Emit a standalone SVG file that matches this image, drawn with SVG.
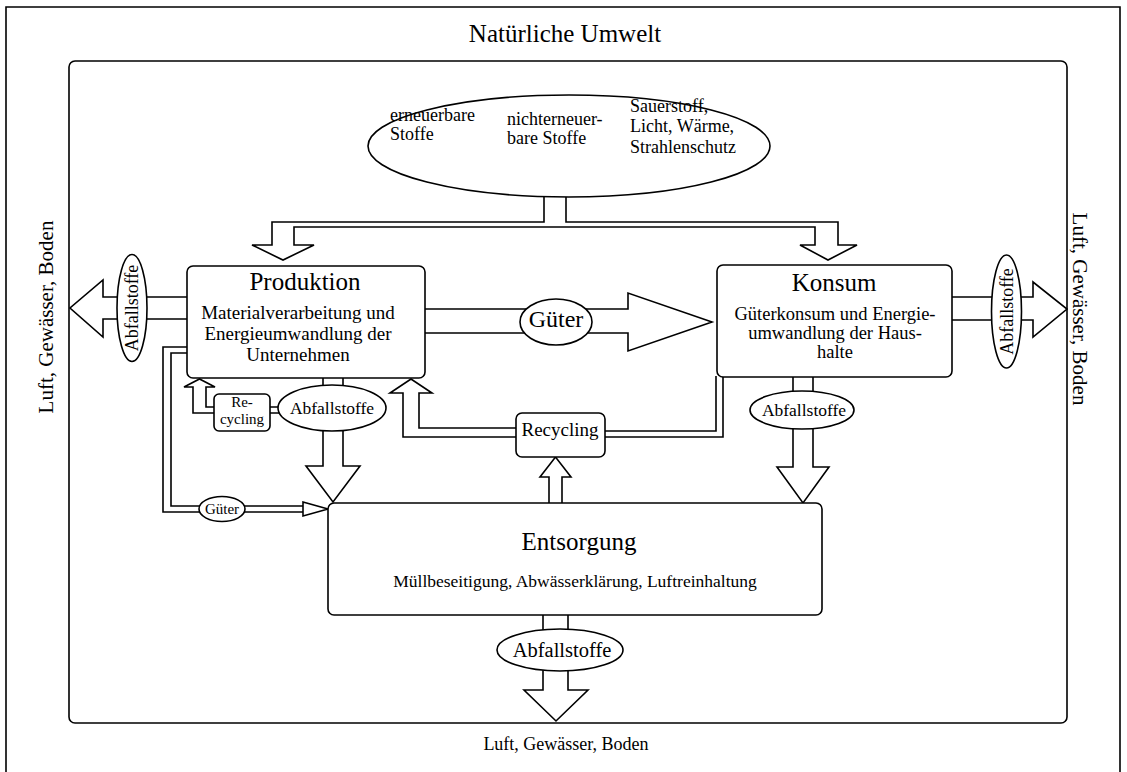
<svg xmlns="http://www.w3.org/2000/svg" width="1127" height="772" viewBox="0 0 1127 772">
<style>
.f{fill:#fff;stroke:#000;stroke-width:1.6;stroke-linejoin:miter}
.l{fill:none;stroke:#000;stroke-width:1.6}
text{font-family:"Liberation Serif","Times New Roman",serif;fill:#000}
.c{text-anchor:middle}
</style>
<rect width="1127" height="772" fill="#fff"/>
<g id="frame">
<path class="l" d="M6,772 V7 H1120 V772"/>
<rect class="l" x="69" y="61" width="998" height="662" rx="6"/>
<text class="c" x="565" y="42" font-size="25">Natürliche Umwelt</text>
<text class="c" x="566" y="750" font-size="18">Luft, Gewässer, Boden</text>
<text class="c" font-size="21" transform="translate(53,317) rotate(-90)">Luft, Gewässer, Boden</text>
<text class="c" font-size="21" transform="translate(1073,309) rotate(90)">Luft, Gewässer, Boden</text>
</g>
<g id="connectors">
<path class="f" d="M544,190 V222 H272 V245 H252 L283,260 L314,245 H294 V227 H815 V245 H800 L828,260 L857,245 H838 V222 H566 V190"/>
<path class="f" d="M187,297 H103 V280 L70,308 L103,337 V319 H187"/>
<path class="f" d="M952,297 H1033 V282 L1067,309 L1033,337 V320 H952"/>
<path class="f" d="M425,309 H628 V293 L712,322 L628,351 V333 H425"/>
<path class="f" d="M323,376 V392 M343,376 V392"/>
<path class="f" d="M323,426 V466 H306 L333,502 L360,466 H343 V426"/>
<path class="f" d="M793,375 V396 M813,375 V396"/>
<path class="f" d="M793,424 V467 H777 L803,503 L829,467 H813 V424"/>
<path class="f" d="M543,613 V634 M568,613 V634"/>
<path class="f" d="M543,666 V690 H524 L556,721 L588,690 H568 V666"/>
<path class="f" d="M214,413 H193 V387 H184 L199.5,379 L215,387 H206 V407 H214"/>
<path class="l" d="M268,407 H282 M268,413 H282"/>
<path class="f" d="M516,437 H403 V393 H390 L411,379 L432,393 H419 V428 H516"/>
<path class="l" d="M605,431 H716 V376 M605,437 H723 V376"/>
<path class="f" d="M549,504 V477 H540 L555.5,457 L571,477 H562 V504"/>
<path class="l" d="M187,347 H163 V512 H303 M187,353 H171 V506 H303"/>
<path class="f" d="M303,502 L328,509 L303,516 Z"/>
</g>
<g id="ressourcen">
<ellipse class="f" cx="569" cy="146" rx="201" ry="51"/>
<text font-size="18"><tspan x="390" y="121">erneuerbare</tspan><tspan x="390" y="140">Stoffe</tspan></text>
<text font-size="18"><tspan x="507" y="125">nichterneuer-</tspan><tspan x="507" y="144">bare Stoffe</tspan></text>
<text font-size="18"><tspan x="630" y="112">Sauerstoff,</tspan><tspan x="630" y="132">Licht, Wärme,</tspan><tspan x="630" y="153">Strahlenschutz</tspan></text>
</g>
<g id="produktion">
<rect class="f" x="187" y="266" width="238" height="112" rx="6"/>
<text class="c" x="305" y="290" font-size="25">Produktion</text>
<text class="c" font-size="19"><tspan x="298" y="319">Materialverarbeitung und</tspan><tspan x="298" y="340">Energieumwandlung der</tspan><tspan x="298" y="361">Unternehmen</tspan></text>
</g>
<g id="konsum">
<rect class="f" x="717" y="265" width="235" height="112" rx="6"/>
<text class="c" x="834" y="291" font-size="25">Konsum</text>
<text class="c" font-size="18.5"><tspan x="835" y="320">Güterkonsum und Energie-</tspan><tspan x="835" y="339">umwandlung der Haus-</tspan><tspan x="835" y="358">halte</tspan></text>
</g>
<g id="entsorgung">
<rect class="f" x="328" y="503" width="494" height="112" rx="6"/>
<text class="c" x="579" y="550" font-size="25">Entsorgung</text>
<text class="c" x="575" y="587" font-size="17.5">Müllbeseitigung, Abwässerklärung, Luftreinhaltung</text>
</g>
<g id="recycling">
<rect class="f" x="516" y="413" width="89" height="44" rx="6"/>
<text class="c" x="560" y="436" font-size="19">Recycling</text>
</g>
<g id="recycling-klein">
<rect class="f" x="214" y="394" width="56" height="37" rx="5"/>
<text class="c" font-size="15"><tspan x="242" y="407">Re-</tspan><tspan x="242" y="424">cycling</tspan></text>
</g>
<g id="gueter">
<ellipse class="f" cx="556" cy="322" rx="36" ry="23"/>
<text class="c" x="556" y="327" font-size="24">Güter</text>
</g>
<g id="gueter-klein">
<ellipse class="f" cx="222" cy="509" rx="23" ry="12.5"/>
<text class="c" x="222" y="514" font-size="15">Güter</text>
</g>
<g id="abfall-produktion">
<ellipse class="f" cx="332" cy="408" rx="54" ry="23"/>
<text class="c" x="332" y="414" font-size="17.5">Abfallstoffe</text>
</g>
<g id="abfall-konsum">
<ellipse class="f" cx="802" cy="410" rx="52" ry="19"/>
<text class="c" x="804" y="416" font-size="17.5">Abfallstoffe</text>
</g>
<g id="abfall-entsorgung">
<ellipse class="f" cx="560" cy="650" rx="63" ry="21"/>
<text class="c" x="562" y="657" font-size="20.5">Abfallstoffe</text>
</g>
<g id="abfall-links">
<ellipse class="f" cx="132" cy="308" rx="15" ry="53.5"/>
<text class="c" font-size="18" transform="translate(138,308) rotate(-90)">Abfallstoffe</text>
</g>
<g id="abfall-rechts">
<ellipse class="f" cx="1006.5" cy="311.5" rx="15" ry="56.5"/>
<text class="c" font-size="18" transform="translate(1012.5,311.5) rotate(-90)">Abfallstoffe</text>
</g>
</svg>
